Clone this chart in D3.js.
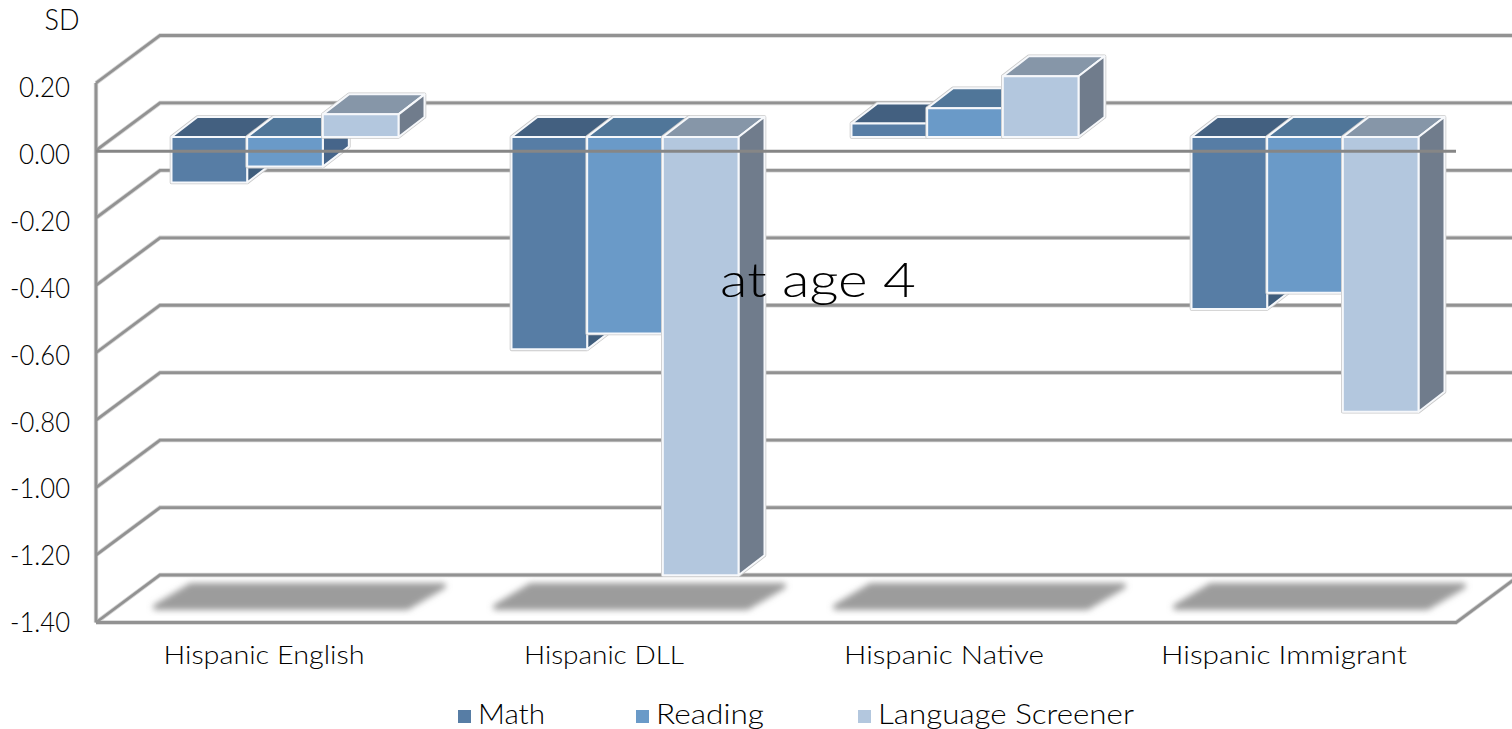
<!DOCTYPE html>
<html><head><meta charset="utf-8">
<style>html,body{margin:0;padding:0;background:#fff;overflow:hidden}svg{display:block}text{font-family:Lato,"Open Sans",sans-serif;font-weight:300;fill:#000}</style>
<script src="https://cdn.jsdelivr.net/npm/d3@7/dist/d3.min.js"></script>
</head><body><svg id="c" width="1512" height="729"></svg>
<script>
const categories=["Hispanic English","Hispanic DLL","Hispanic Native","Hispanic Immigrant"];
const seriesNames=["Math","Reading","Language Screener"];
const math=[-0.135,-0.63,0.04,-0.51];
const reading=[-0.088,-0.583,0.085,-0.462];
const language=[0.067,-1.30,0.18,-0.815];
const yTicks=[0.2,0,-0.2,-0.4,-0.6,-0.8,-1.0,-1.2,-1.4];
const labelWidths=[201,160,200,246];
const legendWidths=[67,108,256];
const frontColors=["#577da5","#6a9ac8","#b3c7de"];
const topColors=["#436080","#507699","#8696a8"];
const sideColors=["#3f5d7c","#46658a","#707c8c"];

const svg=d3.select("#c");
const W={dx:64,dy:-47.5};
const B={dx:17.5,dy:-13.5};
const D={dx:26,dy:-20};
const y=d3.scaleLinear().domain([-1.4,0.2]).range([622.5,83]);
const yLabels=d3.scaleLinear().domain([-1.4,0.2]).range([620.5,85]);
const x0=d3.scaleBand().domain(categories).range([96,1456]);
const x1=d3.scaleBand().domain(seriesNames).range([0,227]);
const values=[math,reading,language];
const pts=a=>a.map(p=>p.join(",")).join(" ");

const defs=svg.append("defs");
const fl=defs.append("filter").attr("id","sb").attr("x","-10%").attr("y","-40%").attr("width","120%").attr("height","180%");
fl.append("feGaussianBlur").attr("stdDeviation",3);

// walls: soft halo under the line
const gridColor="#929292";
[["#d4d4d4",4.4],[gridColor,2.8]].forEach(([col,w])=>{
  const grid=svg.append("g").attr("fill","none").attr("stroke",col).attr("stroke-width",w);
  yTicks.forEach(t=>{
    grid.append("polyline").attr("points",pts([[96,y(t)],[96+W.dx,y(t)+W.dy],[1530,y(t)+W.dy]]));
  });
  grid.append("line").attr("x1",96).attr("x2",96).attr("y1",y(0.2)).attr("y2",y(-1.4));
  grid.append("polyline").attr("points",pts([[96,y(-1.4)],[1456,y(-1.4)],[1456+W.dx,y(-1.4)+W.dy]]));
});

// floor shadows
svg.append("g").attr("filter","url(#sb)").selectAll("polygon").data(categories).join("polygon")
  .attr("fill","#9c9c9c").attr("stroke","#9c9c9c").attr("stroke-width",6).attr("stroke-linejoin","round")
  .attr("points",c=>{const l=x0(c);return pts([[l+60,607],[l+95,586],[l+347,586],[l+311,607]]);});

// bars
categories.forEach((c,i)=>{
  const g=svg.append("g");
  const gx=x0(c)+(x0.bandwidth()-x1.range()[1])/2+B.dx+1.5;
  seriesNames.forEach((s,k)=>{
    const v=values[k][i], l=gx+x1(s), r=l+x1.bandwidth();
    const zero=y(0)+B.dy, val=y(v)+B.dy;
    const t=Math.min(zero,val), b=Math.max(zero,val);
    const outline=[[l,t],[l+D.dx,t+D.dy],[r+D.dx,t+D.dy],[r+D.dx,b+D.dy],[r,b],[l,b]];
    g.append("polygon").attr("points",pts(outline)).attr("fill","none").attr("stroke","#c9c9c9").attr("stroke-width",3.6).attr("stroke-linejoin","round");
    const faces=[
      [[[l,t],[l+D.dx,t+D.dy],[r+D.dx,t+D.dy],[r,t]],topColors[k]],
      [[[r,t],[r+D.dx,t+D.dy],[r+D.dx,b+D.dy],[r,b]],sideColors[k]],
      [[[l,t],[r,t],[r,b],[l,b]],frontColors[k]]
    ];
    faces.forEach(f=>g.append("polygon").attr("points",pts(f[0])).attr("fill",f[1]).attr("stroke","#f6f8fb").attr("stroke-width",2).attr("stroke-linejoin","round"));
  });
});

// zero line in front of the bars
svg.append("line").attr("x1",96).attr("x2",1456).attr("y1",y(0)+0.8).attr("y2",y(0)+0.8).attr("stroke","#868686").attr("stroke-width",3.2);

// axes
const yAxis=svg.append("g").attr("transform","translate(96,0)")
  .call(d3.axisLeft(yLabels).tickValues(yTicks).tickSize(0).tickPadding(26).tickFormat(d=>d.toFixed(2)));
yAxis.select(".domain").remove();
yAxis.selectAll("text").attr("font-size",27).style("font-family","Lato,sans-serif").attr("dy","0.42em")
  .attr("textLength",d=>d<0?60:51).attr("lengthAdjust","spacingAndGlyphs");

const xAxis=svg.append("g").attr("transform","translate(0,622)")
  .call(d3.axisBottom(x0).tickSize(0).tickPadding(0));
xAxis.select(".domain").remove();
xAxis.selectAll("text").attr("font-size",26).style("font-family","Lato,sans-serif")
  .attr("y",42).attr("dy",0)
  .attr("textLength",(d,i)=>labelWidths[i]).attr("lengthAdjust","spacingAndGlyphs")
  .attr("x",-2);

svg.append("text").attr("x",62).attr("y",30).attr("text-anchor","middle").attr("font-size",29).attr("textLength",35).attr("lengthAdjust","spacingAndGlyphs").text("SD");
svg.append("text").attr("x",818).attr("y",297).attr("text-anchor","middle").attr("font-size",47).attr("textLength",196).attr("lengthAdjust","spacingAndGlyphs").text("at age 4");

// legend
const legendX=[458,636,858];
const leg=svg.append("g").selectAll("g").data(seriesNames).join("g").attr("transform",(d,i)=>`translate(${legendX[i]},710)`);
leg.append("rect").attr("width",13).attr("height",13).attr("fill",(d,i)=>frontColors[i]);
leg.append("text").attr("x",20).attr("y",14).attr("font-size",27).attr("textLength",(d,i)=>legendWidths[i]).attr("lengthAdjust","spacingAndGlyphs").text(d=>d);
</script></body></html>
